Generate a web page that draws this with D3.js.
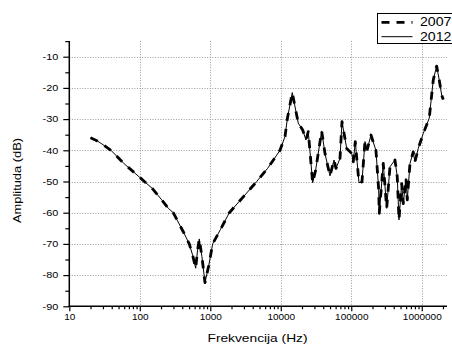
<!DOCTYPE html>
<html>
<head>
<meta charset="utf-8">
<script src="https://cdn.jsdelivr.net/npm/d3@7"></script>
<style>
  html, body { margin: 0; padding: 0; background: #fff; }
  svg { display: block; }
  text { font-family: Arial, "Liberation Sans", sans-serif; fill: #000; }
</style>
</head>
<body>
<svg id="chart" width="452" height="344"></svg>
<script>
// Frequency response (Hz -> dB), two measurement campaigns
const freq = [20, 25, 30, 39, 60, 100, 150, 205, 254, 298, 414, 503, 560, 621, 660, 698, 760, 841, 950, 1081,
  1400, 1862, 3000, 4550, 6500, 9750, 11480, 12370, 14550, 17700, 20460, 22750, 24550, 28330, 31260,
  38020, 42360, 49890, 56880, 60700, 69180, 73850, 86100, 101400, 106700, 114000, 128600, 141900, 156400,
  168600, 190400, 224100, 244700, 249500, 284300, 317700, 353900, 416600, 449100, 475000, 518800, 546600,
  597000, 622700, 680600, 757400, 800600, 891800, 1050000, 1277000, 1455000, 1626000, 1771000, 1915000, 2018000];

const amp2007 = [-36.0, -37.0, -38.2, -40.0, -44.3, -48.7, -52.2, -55.9, -58.6, -60.0, -66.1, -70.0, -73.5, -77.8, -72.0, -68.4, -74.0, -82.4, -77.0, -70.0,
  -65.3, -60.0, -54.7, -50.0, -45.8, -40.0, -35.6, -30.0, -21.5, -31.3, -33.5, -36.7, -34.0, -50.4, -46.3,
  -33.8, -41.0, -48.2, -43.1, -45.8, -42.6, -30.8, -39.4, -41.0, -43.7, -37.2, -50.4, -50.1, -37.2,
  -39.7, -35.1, -40.1, -52.5, -60.2, -44.2, -58.6, -45.3, -43.1, -48.5, -62.3, -50.7, -57.1,
  -49.0, -55.9, -44.2, -40.5, -43.7, -39.4, -34.6, -29.7, -17.5, -13.0, -17.5, -22.3, -23.7];

const amp2012 = [-36.0, -37.0, -38.2, -40.0, -44.3, -48.7, -52.2, -55.9, -58.6, -60.0, -66.1, -70.0, -73.5, -77.8, -72.0, -68.4, -74.0, -82.4, -77.0, -70.0,
  -65.3, -60.0, -54.7, -50.0, -45.8, -40.0, -35.6, -30.0, -21.5, -31.3, -33.5, -36.7, -34.0, -50.4, -46.3,
  -33.8, -41.0, -48.2, -43.1, -45.8, -42.6, -30.8, -39.4, -41.0, -43.7, -37.2, -50.4, -50.1, -37.2,
  -39.7, -35.1, -40.1, -52.5, -60.2, -44.2, -58.6, -45.3, -43.1, -48.5, -62.3, -50.7, -57.1,
  -49.0, -55.9, -44.2, -40.5, -43.7, -39.4, -34.6, -29.7, -17.5, -13.0, -17.5, -22.3, -23.7];

const seriesNames = ["2007", "2012"];
const xMajorTicks = [10, 100, 1000, 10000, 100000, 1000000];
const xTickLabels = ["10", "100", "1000", "10000", "100000", "1000000"];
const yMajorTicks = [-90, -80, -70, -60, -50, -40, -30, -20, -10];
const yTickLabels = ["-90", "-80", "-70", "-60", "-50", "-40", "-30", "-20", "-10"];
const xTitle = "Frekvencija (Hz)";
const yTitle = "Amplituda (dB)";

const svg = d3.select("#chart");
const plotL = 69.3, plotR = 447, plotT = 41.1, plotB = 306.3;
const stretch = 1.15;

const x = d3.scaleLog().domain([10, 2.28e6]).range([plotL, plotR]);
const y = d3.scaleLinear().domain([-90, -5]).range([plotB, plotT]);

// minor ticks: 2..9 in each decade, and every 5 dB
const xMinor = [];
for (let d = 10; d <= 1e6; d *= 10) for (let k = 2; k <= 9; k++) if (d * k <= 2.28e6) xMinor.push(d * k);
const yMinor = d3.range(-85, -4, 10);

// dotted grid at major ticks
const grid = svg.append("g").attr("stroke", "#9a9a9a").attr("stroke-width", 1).attr("stroke-dasharray", "1,1.6");
grid.selectAll("line.v").data(xMajorTicks.slice(1)).join("line")
  .attr("x1", d => Math.round(x(d)) + 0.5).attr("x2", d => Math.round(x(d)) + 0.5)
  .attr("y1", plotT).attr("y2", plotB);
grid.selectAll("line.h").data(yMajorTicks.slice(1)).join("line")
  .attr("x1", plotL).attr("x2", plotR)
  .attr("y1", d => Math.round(y(d)) + 0.5).attr("y2", d => Math.round(y(d)) + 0.5);

// data lines
const line = (vals) => d3.line().x((d, i) => x(freq[i])).y(d => y(d))(vals);
svg.append("path").attr("d", line(amp2012)).attr("fill", "none")
  .attr("stroke", "#000").attr("stroke-width", 1).attr("stroke-linejoin", "round");
svg.append("path").attr("d", line(amp2007)).attr("fill", "none")
  .attr("stroke", "#000").attr("stroke-width", 2.8).attr("stroke-dasharray", "8,8")
  .attr("stroke-linejoin", "round");

// bottom axis
const xAxis = d3.axisBottom(x).tickValues(xMajorTicks.concat(xMinor)).tickSize(5).tickSizeOuter(0)
  .tickFormat(d => { const i = xMajorTicks.indexOf(d); return i >= 0 ? xTickLabels[i] : ""; });
const gx = svg.append("g").attr("transform", `translate(0,${plotB})`).call(xAxis);
gx.select(".domain").attr("stroke-width", 1.5).attr("d", `M${plotL - 0.75},0H${plotR}`);
gx.selectAll(".tick line").attr("stroke-width", 1.2).attr("y2", d => xMajorTicks.includes(d) ? 5 : 3);
gx.selectAll(".tick text").attr("font-size", 8.7).attr("y", 8)
  .attr("transform", `scale(${stretch},1)`);

// left axis
const yAxis = d3.axisLeft(y).tickValues(yMajorTicks.concat(yMinor)).tickSize(6).tickSizeOuter(0)
  .tickFormat(d => { const i = yMajorTicks.indexOf(d); return i >= 0 ? yTickLabels[i] : ""; });
const gy = svg.append("g").attr("transform", `translate(${plotL},0)`).call(yAxis);
gy.select(".domain").attr("stroke-width", 1.5).attr("d", `M0,${plotT}V${plotB + 0.75}`);
gy.selectAll(".tick line").attr("stroke-width", 1.2).attr("x2", d => yMajorTicks.includes(d) ? -6 : -4);
gy.selectAll(".tick text").attr("font-size", 8.7).attr("x", -11 / 1.25)
  .attr("transform", `scale(1.25,1)`);

// axis titles
svg.append("text").attr("transform", `translate(257.5,342) scale(1.25,1)`)
  .attr("text-anchor", "middle").attr("font-size", 11).text(xTitle);
svg.append("text").attr("transform", `translate(20.5,180.5) rotate(-90) scale(1.17,1)`)
  .attr("text-anchor", "middle").attr("font-size", 11).text(yTitle);

// legend
const lg = svg.append("g");
lg.append("rect").attr("x", 377.5).attr("y", 13.5).attr("width", 80).attr("height", 30)
  .attr("fill", "#fff").attr("stroke", "#000").attr("stroke-width", 1);
const rows = [
  { name: seriesNames[0], y: 22.3, w: 2.8, dash: "8,7" },
  { name: seriesNames[1], y: 36.7, w: 1, dash: null }
];
rows.forEach(r => {
  lg.append("line").attr("x1", 381.5).attr("x2", 412.5).attr("y1", r.y).attr("y2", r.y)
    .attr("stroke", "#000").attr("stroke-width", r.w).attr("stroke-dasharray", r.dash);
  lg.append("text").attr("transform", `translate(420,${r.y + 4}) scale(1.18,1)`)
    .attr("font-size", 12).text(r.name);
});
</script>
</body>
</html>
